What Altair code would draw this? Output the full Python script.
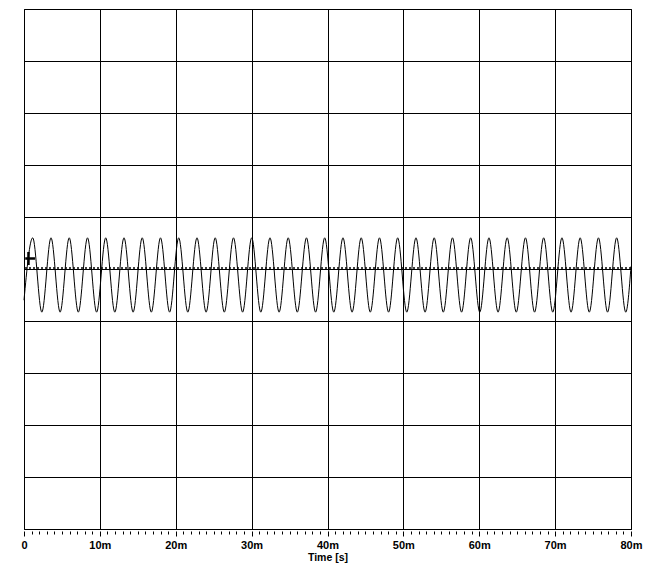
import altair as alt
import pandas as pd

# (time in ms, value in grid units)
peak_t = [1.15, 3.56, 5.96, 8.37, 10.77, 13.18, 15.58, 17.99, 20.39, 22.80, 25.20,
          27.61, 30.01, 32.42, 34.82, 37.23, 39.63, 42.04, 44.44, 46.85, 49.25,
          51.66, 54.06, 56.47, 58.87, 61.28, 63.68, 66.09, 68.49, 70.90, 73.30,
          75.71, 78.11]
trough_t = [2.35, 4.76, 7.16, 9.57, 11.97, 14.38, 16.78, 19.19, 21.59, 24.00, 26.40,
            28.81, 31.21, 33.62, 36.02, 38.43, 40.83, 43.24, 45.64, 48.05, 50.45,
            52.86, 55.26, 57.67, 60.07, 62.48, 64.88, 67.29, 69.69, 72.10, 74.50,
            76.91, 79.31]
peak_v = 0.6
trough_v = -0.83
start_point = (0.0, -0.6)
end_point = (80.0, 0.05)
marker_point = (0.59, 0.2)

major_labels = ["0", "10m", "20m", "30m", "40m", "50m", "60m", "70m", "80m"]
tick_values = list(range(0, 81))
y_grid = [-5, -4, -3, -2, -1, 0, 1, 2, 3, 4, 5]

rows = [start_point]
for p, tr in zip(peak_t, trough_t):
    rows.append((p, peak_v))
    rows.append((tr, trough_v))
rows.append(end_point)
wave = pd.DataFrame(rows, columns=["t", "v"])

FONT = "Liberation Sans"
label_expr = ("datum.value % 10 === 0 ? [" + ",".join("'%s'" % s for s in major_labels)
              + "][round(datum.value/10)] : ''")
is_major = "datum.value % 10 === 0"

xscale = alt.Scale(domain=[0, 80], nice=False, zero=False)
yscale = alt.Scale(domain=[-5, 5], nice=False, zero=False)

x_axis = alt.Axis(
    orient="bottom", values=tick_values, tickCount=200, labelExpr=label_expr,
    tickSize={"condition": {"test": is_major, "value": 5}, "value": 3},
    tickColor="black", tickWidth=1, domain=False,
    grid=True, gridColor="black", gridWidth=1,
    gridOpacity={"condition": {"test": is_major, "value": 1}, "value": 0},
    labelFont=FONT, labelFontWeight="bold", labelFontSize=11, labelColor="black",
    labelPadding=3, offset=2, labelFlush=False, labelOverlap=False,
    title="Time [s]", titleFont=FONT, titleFontWeight="bold", titleFontSize=10.5,
    titleColor="black", titlePadding=2,
)
y_axis = alt.Axis(values=y_grid, tickCount=50, grid=True, gridColor="black", gridOpacity=1,
                  gridWidth=1, labels=False, ticks=False, domain=False, title=None)

line = alt.Chart(wave).mark_line(color="black", strokeWidth=1, interpolate="monotone").encode(
    x=alt.X("t:Q", scale=xscale, axis=x_axis),
    y=alt.Y("v:Q", scale=yscale, axis=y_axis),
)

zero_df = pd.DataFrame({"v": [0.0]})
zero_dots = alt.Chart(zero_df).mark_rule(color="black", strokeWidth=1.5,
                                          strokeDash=[2, 2], yOffset=-1).encode(
    y=alt.Y("v:Q", scale=yscale),
)

marker_df = pd.DataFrame({"t": [marker_point[0]], "v": [marker_point[1]]})
marker = alt.Chart(marker_df).mark_point(
    shape="M-0.5,0L1,0M0,-1L0,1", size=169, stroke="black", strokeWidth=2.5,
    filled=False, opacity=1,
).encode(
    x=alt.X("t:Q", scale=xscale),
    y=alt.Y("v:Q", scale=yscale),
)

chart = alt.layer(line, zero_dots, marker).properties(
    width=607, height=520,
    autosize=alt.AutoSizeParams(type="none"),
    padding={"left": 16, "top": 1, "right": 21, "bottom": 34},
    background="white",
).configure_view(stroke="black", strokeWidth=1)

chart.save("out.html", embed_options={"renderer": "svg", "actions": False})
